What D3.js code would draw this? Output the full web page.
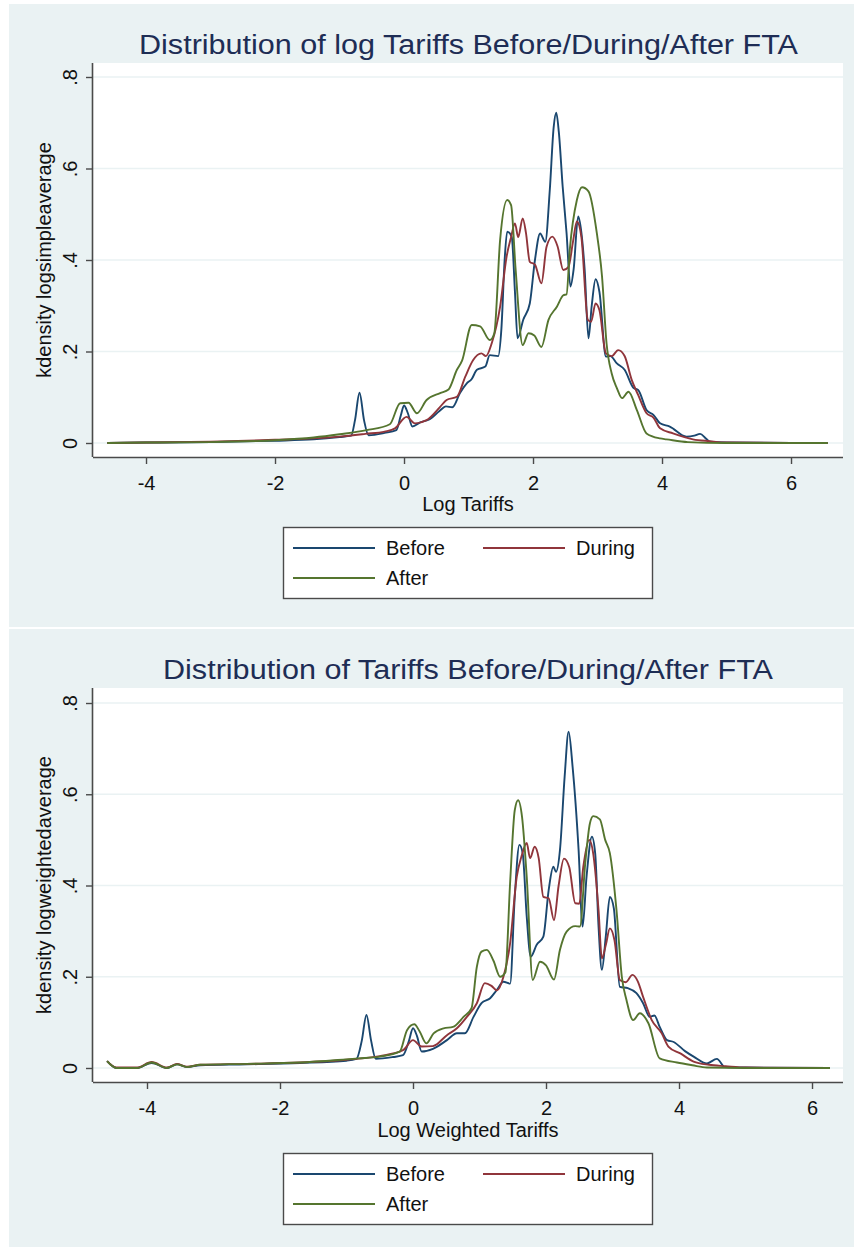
<!DOCTYPE html>
<html><head><meta charset="utf-8">
<script src="https://cdnjs.cloudflare.com/ajax/libs/d3/7.8.5/d3.min.js"></script>
<style>body{margin:0;background:#fff}svg{display:block}</style>
</head><body>
<script>
// ---------- DATA ----------
const seriesNames = ["Before","During","After"];
const yTicks = [0, 0.2, 0.4, 0.6, 0.8];
const yTickLabels = ["0", ".2", ".4", ".6", ".8"];
const xTicks = [-4, -2, 0, 2, 4, 6];

// Top chart: log simple average tariffs  [x, density]
const topBefore = [[-4.6,0],[-4,0.001],[-3,0.002],[-2,0.005],[-1.4,0.008],[-1,0.013],[-0.82,0.016],[-0.76,0.05],[-0.69,0.11],[-0.62,0.05],[-0.55,0.017],[-0.3,0.022],[-0.12,0.028],[-0.05,0.06],[0,0.082],[0.06,0.065],[0.13,0.036],[0.25,0.045],[0.4,0.052],[0.55,0.07],[0.65,0.08],[0.75,0.078],[0.87,0.11],[0.97,0.13],[1.05,0.14],[1.13,0.16],[1.26,0.167],[1.33,0.192],[1.46,0.19],[1.51,0.25],[1.56,0.4],[1.6,0.462],[1.67,0.45],[1.72,0.33],[1.76,0.229],[1.85,0.27],[1.95,0.305],[2.03,0.4],[2.11,0.458],[2.19,0.44],[2.26,0.553],[2.32,0.69],[2.36,0.722],[2.4,0.68],[2.46,0.56],[2.52,0.459],[2.58,0.342],[2.63,0.38],[2.7,0.495],[2.75,0.46],[2.8,0.38],[2.86,0.229],[2.91,0.3],[2.97,0.358],[3.03,0.33],[3.13,0.189],[3.2,0.19],[3.3,0.174],[3.42,0.16],[3.56,0.12],[3.63,0.116],[3.76,0.072],[3.87,0.061],[3.97,0.043],[4.12,0.036],[4.38,0.014],[4.5,0.016],[4.59,0.02],[4.68,0.01],[4.74,0.003],[5,0.001],[6,0],[6.57,0]];
const topDuring = [[-4.6,0],[-4,0.001],[-3,0.003],[-2,0.007],[-1.4,0.01],[-1,0.014],[-0.6,0.02],[-0.3,0.025],[-0.14,0.032],[0.04,0.057],[0.17,0.043],[0.35,0.05],[0.56,0.079],[0.66,0.094],[0.82,0.101],[0.95,0.145],[1.07,0.181],[1.2,0.196],[1.27,0.19],[1.36,0.218],[1.49,0.298],[1.59,0.407],[1.66,0.45],[1.72,0.48],[1.77,0.45],[1.84,0.491],[1.89,0.46],[1.95,0.396],[2.03,0.39],[2.13,0.349],[2.21,0.429],[2.3,0.451],[2.38,0.43],[2.47,0.378],[2.55,0.385],[2.62,0.44],[2.68,0.484],[2.75,0.45],[2.85,0.269],[2.9,0.265],[2.97,0.305],[3.03,0.29],[3.13,0.196],[3.22,0.19],[3.32,0.203],[3.42,0.19],[3.53,0.138],[3.63,0.105],[3.76,0.065],[3.87,0.055],[3.97,0.032],[4.17,0.021],[4.48,0.008],[4.74,0.004],[5,0.001],[6,0],[6.57,0]];
const topAfter = [[-4.6,0],[-4,0.001],[-3,0.002],[-2,0.006],[-1.4,0.012],[-1,0.019],[-0.58,0.028],[-0.22,0.041],[-0.06,0.087],[0.07,0.088],[0.2,0.065],[0.35,0.094],[0.56,0.109],[0.69,0.117],[0.82,0.16],[0.9,0.18],[1.05,0.258],[1.18,0.255],[1.33,0.225],[1.4,0.24],[1.49,0.444],[1.6,0.531],[1.66,0.52],[1.73,0.38],[1.84,0.214],[1.93,0.24],[2.02,0.235],[2.13,0.21],[2.24,0.269],[2.37,0.298],[2.47,0.323],[2.52,0.325],[2.57,0.422],[2.68,0.531],[2.76,0.559],[2.86,0.55],[2.99,0.458],[3.07,0.364],[3.14,0.218],[3.22,0.152],[3.3,0.12],[3.38,0.098],[3.48,0.112],[3.61,0.072],[3.76,0.021],[3.97,0.01],[4.07,0.008],[4.4,0.002],[5,0],[6.57,0]];

// Bottom chart: log weighted average tariffs  [x, density]
const botBefore = [[-4.6,0.015],[-4.46,0],[-4.15,0],[-3.93,0.011],[-3.7,0],[-3.55,0.008],[-3.4,0.002],[-3.2,0.006],[-2.5,0.008],[-1.7,0.011],[-1,0.016],[-0.85,0.02],[-0.77,0.06],[-0.7,0.116],[-0.63,0.06],[-0.56,0.02],[-0.3,0.024],[-0.15,0.028],[-0.06,0.06],[0,0.087],[0.06,0.07],[0.13,0.036],[0.3,0.042],[0.51,0.061],[0.66,0.076],[0.78,0.076],[0.91,0.112],[1.03,0.142],[1.16,0.153],[1.26,0.171],[1.36,0.189],[1.46,0.185],[1.53,0.375],[1.6,0.489],[1.65,0.47],[1.71,0.332],[1.77,0.244],[1.86,0.27],[1.96,0.288],[2.04,0.39],[2.11,0.441],[2.15,0.43],[2.21,0.478],[2.28,0.638],[2.34,0.737],[2.4,0.66],[2.49,0.478],[2.55,0.31],[2.61,0.42],[2.69,0.507],[2.74,0.47],[2.79,0.31],[2.84,0.215],[2.9,0.29],[2.96,0.375],[3.02,0.35],[3.11,0.178],[3.23,0.175],[3.36,0.164],[3.46,0.142],[3.56,0.112],[3.63,0.115],[3.71,0.09],[3.82,0.061],[3.92,0.057],[4.09,0.037],[4.22,0.025],[4.42,0.01],[4.57,0.02],[4.69,0.002],[5,0.001],[6.27,0]];
const botDuring = [[-4.6,0.015],[-4.46,0.001],[-4.15,0.001],[-3.93,0.013],[-3.7,0.001],[-3.55,0.009],[-3.4,0.003],[-3.2,0.007],[-2.5,0.009],[-1.7,0.012],[-1,0.018],[-0.5,0.026],[-0.15,0.039],[0,0.061],[0.13,0.047],[0.3,0.048],[0.51,0.072],[0.66,0.087],[0.81,0.112],[0.96,0.142],[1.08,0.186],[1.18,0.18],[1.26,0.17],[1.36,0.2],[1.46,0.273],[1.56,0.419],[1.63,0.463],[1.71,0.493],[1.76,0.46],[1.83,0.485],[1.89,0.46],[1.96,0.375],[2.04,0.372],[2.12,0.324],[2.19,0.4],[2.27,0.459],[2.35,0.44],[2.44,0.361],[2.5,0.36],[2.56,0.44],[2.65,0.5],[2.71,0.47],[2.79,0.346],[2.84,0.24],[2.9,0.27],[2.96,0.306],[3.03,0.28],[3.11,0.193],[3.2,0.188],[3.3,0.204],[3.38,0.19],[3.46,0.156],[3.59,0.105],[3.74,0.076],[3.84,0.047],[4.02,0.032],[4.22,0.014],[4.45,0.007],[4.7,0.004],[5,0.001],[6.27,0]];
const botAfter = [[-4.6,0.015],[-4.46,0],[-4.15,0],[-3.93,0.012],[-3.7,0],[-3.55,0.008],[-3.4,0.002],[-3.2,0.007],[-2.5,0.009],[-1.7,0.012],[-1,0.019],[-0.82,0.021],[-0.5,0.025],[-0.2,0.036],[-0.09,0.083],[0.02,0.096],[0.1,0.08],[0.2,0.054],[0.31,0.076],[0.46,0.087],[0.6,0.09],[0.76,0.112],[0.88,0.131],[0.96,0.222],[1.03,0.255],[1.11,0.259],[1.21,0.235],[1.31,0.2],[1.39,0.21],[1.46,0.405],[1.53,0.565],[1.58,0.587],[1.64,0.55],[1.71,0.419],[1.8,0.193],[1.91,0.233],[2,0.225],[2.12,0.194],[2.21,0.259],[2.31,0.299],[2.44,0.311],[2.51,0.31],[2.59,0.449],[2.66,0.536],[2.71,0.552],[2.81,0.545],[2.89,0.5],[2.96,0.471],[3.06,0.346],[3.14,0.2],[3.21,0.149],[3.31,0.105],[3.41,0.12],[3.54,0.098],[3.71,0.021],[3.97,0.012],[4.2,0.006],[4.42,0.001],[5,0],[6.27,0]];

const colors = {Before:"#1a476f", During:"#90353b", After:"#55752f"};

// ---------- DRAW ----------
const W = 854, H = 1247;
const svg = d3.select("body").append("svg").attr("width", W).attr("height", H);
svg.append("rect").attr("width", W).attr("height", H).attr("fill", "#fff");
const FONT = "Arial, 'Liberation Sans', sans-serif";
const FS = 20;

function panel(cfg) {
  const g = svg.append("g").attr("transform", `translate(0,${cfg.top})`);
  g.append("rect").attr("x", 9).attr("y", 0).attr("width", W - 9).attr("height", cfg.height).attr("fill", "#eaf2f3");
  const L = 93, R = 843, T = cfg.plotTop, B = cfg.plotBottom;
  g.append("rect").attr("x", L).attr("y", T).attr("width", R - L).attr("height", B - T).attr("fill", "#fff");
  const x = d3.scaleLinear().domain(cfg.xDomain).range([L, R]);
  const y = d3.scaleLinear().domain(cfg.yDomain).range([B, T]);
  // gridlines
  g.append("g").selectAll("line").data(yTicks).join("line")
    .attr("x1", L).attr("x2", R).attr("y1", d => y(d)).attr("y2", d => y(d))
    .attr("stroke", "#eaf2f3").attr("stroke-width", 1.6);
  // series
  const line = d3.line().x(d => x(d[0])).y(d => y(d[1])).curve(d3.curveMonotoneX);
  cfg.series.forEach((s, i) => {
    g.append("path").datum(s).attr("d", line).attr("fill", "none")
      .attr("stroke", colors[seriesNames[i]]).attr("stroke-width", 1.9).attr("stroke-linejoin", "round");
  });
  // axes
  const ax = g.append("g").attr("transform", `translate(0,${B})`)
    .call(d3.axisBottom(x).tickValues(xTicks).tickSize(7).tickPadding(12).tickFormat(d => d < 0 ? "-" + Math.abs(d) : d));
  ax.select(".domain").attr("stroke", "#4a4a4a").attr("stroke-width", 1.6).attr("d", `M${L},0.5H${R}`);
  ax.selectAll(".tick line").attr("stroke", "#4a4a4a").attr("stroke-width", 1.4);
  ax.selectAll(".tick text").attr("font-family", FONT).attr("font-size", FS).attr("fill", "#111").attr("dy", "0.71em");
  const ay = g.append("g").attr("transform", `translate(${L},0)`)
    .call(d3.axisLeft(y).tickValues(yTicks).tickSize(7).tickFormat((d, i) => yTickLabels[i]));
  ay.select(".domain").attr("stroke", "#4a4a4a").attr("stroke-width", 1.6).attr("d", `M-0.5,${T}V${B}`);
  ay.selectAll(".tick line").attr("stroke", "#4a4a4a").attr("stroke-width", 1.4);
  ay.selectAll(".tick text").attr("font-family", FONT).attr("font-size", FS).attr("fill", "#111")
    .attr("x", null).attr("dy", null).attr("text-anchor", "middle")
    .attr("transform", "translate(-16,0) rotate(-90)");
  // title
  g.append("text").attr("x", cfg.titleX).attr("y", cfg.titleY).attr("font-family", FONT).attr("font-size", 27)
    .attr("fill", "#1e2d55").attr("textLength", cfg.titleLen).attr("lengthAdjust", "spacingAndGlyphs").text(cfg.title);
  // y title
  g.append("text").attr("transform", `translate(51,${(T + B) / 2}) rotate(-90)`).attr("text-anchor", "middle")
    .attr("font-family", FONT).attr("font-size", FS).attr("fill", "#111").text(cfg.yTitle);
  // x title
  g.append("text").attr("x", (L + R) / 2).attr("y", cfg.xTitleY).attr("text-anchor", "middle")
    .attr("font-family", FONT).attr("font-size", FS).attr("fill", "#111").text(cfg.xTitle);
  // legend
  const lg = g.append("g").attr("transform", `translate(283,${cfg.legendY})`);
  lg.append("rect").attr("x", 0.5).attr("y", 0.5).attr("width", 369).attr("height", 71).attr("fill", "#fff")
    .attr("stroke", "#4a4a4a").attr("stroke-width", 1.4);
  const items = [{n:"Before", lx:10, ly:21}, {n:"During", lx:200, ly:21}, {n:"After", lx:10, ly:51}];
  items.forEach(it => {
    lg.append("line").attr("x1", it.lx).attr("x2", it.lx + 82).attr("y1", it.ly).attr("y2", it.ly)
      .attr("stroke", colors[it.n]).attr("stroke-width", 1.9);
    lg.append("text").attr("x", it.lx + 93).attr("y", it.ly + 7).attr("font-family", FONT).attr("font-size", FS)
      .attr("fill", "#111").text(it.n);
  });
}

panel({top: 4, height: 623, plotTop: 59, plotBottom: 453,
  xDomain: [-4.822, 6.806], yDomain: [-0.0306, 0.8306],
  series: [topBefore, topDuring, topAfter],
  title: "Distribution of log Tariffs Before/During/After FTA", titleX: 139, titleY: 50, titleLen: 659,
  yTitle: "kdensity logsimpleaverage", xTitle: "Log Tariffs", xTitleY: 507, legendY: 523});

panel({top: 629, height: 618, plotTop: 59, plotBottom: 453,
  xDomain: [-4.812, 6.466], yDomain: [-0.0307, 0.8329],
  series: [botBefore, botDuring, botAfter],
  title: "Distribution of Tariffs Before/During/After FTA", titleX: 163, titleY: 50, titleLen: 610,
  yTitle: "kdensity logweightedaverage", xTitle: "Log Weighted Tariffs", xTitleY: 508, legendY: 524});
</script>
</body></html>
